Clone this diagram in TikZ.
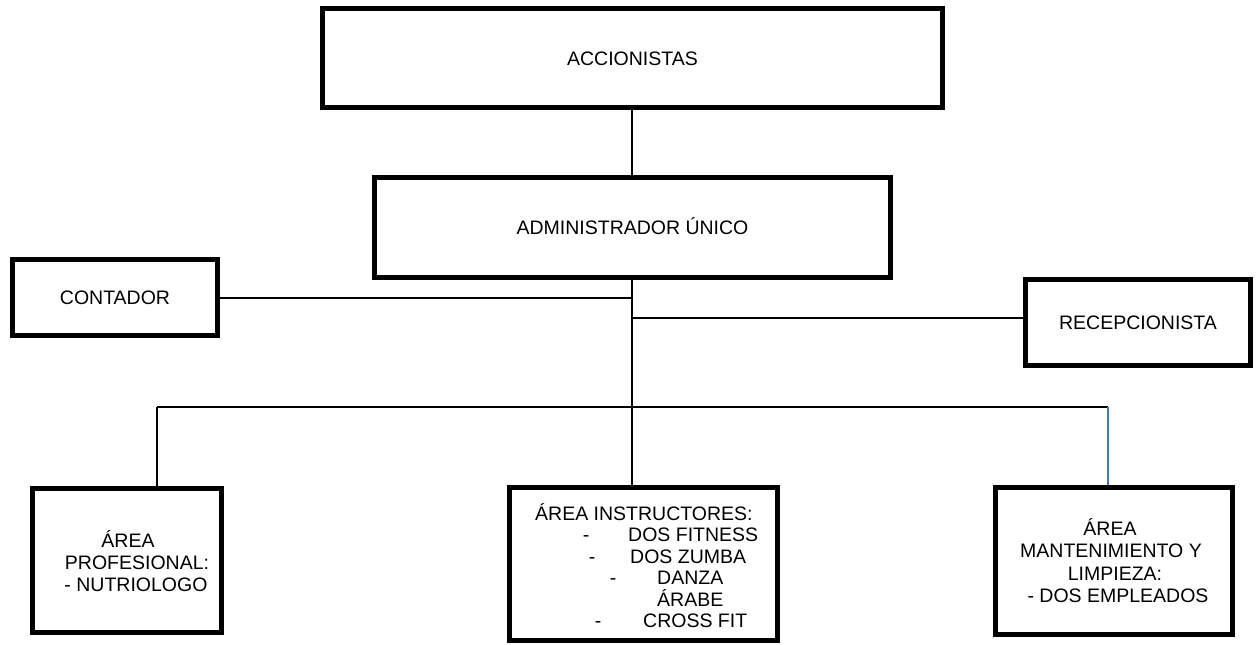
\documentclass[tikz,border=0pt]{standalone}
\usepackage{fontspec}
\setmainfont{Liberation Sans}
\definecolor{linkblue}{RGB}{68,114,196}
\begin{document}
\begin{tikzpicture}[x=1pt,y=-1pt,
  box/.style={draw=black,line width=5pt,rectangle,inner sep=0pt,
    font=\fontsize{19.5}{21.5}\selectfont,text height=14pt,text depth=0pt},
  txt/.style={inner sep=0pt,anchor=base,font=\fontsize{19.5}{21.5}\selectfont},
  txtw/.style={inner sep=0pt,anchor=base west,font=\fontsize{19.5}{21.5}\selectfont},
  link/.style={draw=black,line width=1.5pt},
  bluelink/.style={draw=linkblue,line width=1.5pt}]
\useasboundingbox (0,0) rectangle (1259,645);

% boxes
\node[box,minimum width=620pt,minimum height=99pt] (acc) at (632.5,58) {ACCIONISTAS};
\node[box,minimum width=516pt,minimum height=100pt] (adm) at (632.5,227.5) {ADMINISTRADOR ÚNICO};
\node[box,minimum width=205pt,minimum height=76pt] (con) at (115,297.5) {CONTADOR};
\node[box,minimum width=225pt,minimum height=86pt] (rec) at (1138,322.5) {RECEPCIONISTA};
\node[box,minimum width=189pt,minimum height=144pt] (pro) at (127,560.5) {};
\node[box,minimum width=268pt,minimum height=153pt] (ins) at (643.5,564) {};
\node[box,minimum width=237pt,minimum height=147pt] (man) at (1114,561) {};

% texts of the lower boxes
\node[txt] (pro1) at (128,547) {ÁREA};
\node[txt] (pro2) at (137,569) {PROFESIONAL:};
\node[txt] (pro3) at (136,591) {- NUTRIOLOGO};

\node[txtw] (ins1) at (535,520) {ÁREA INSTRUCTORES:};
\node[txt] (ins2a) at (586,541.5) {-};
\node[txtw] (ins2b) at (628,541.5) {DOS FITNESS};
\node[txt] (ins3a) at (592,563) {-};
\node[txtw] (ins3b) at (630,563) {DOS ZUMBA};
\node[txt] (ins4a) at (613,584.5) {-};
\node[txtw] (ins4b) at (657,584.5) {DANZA};
\node[txtw] (ins5) at (657,606) {ÁRABE};
\node[txt] (ins6a) at (598,627.5) {-};
\node[txtw] (ins6b) at (643,627.5) {CROSS FIT};

\node[txt] (man1) at (1110,535) {ÁREA};
\node[txt] (man2) at (1111,557.5) {MANTENIMIENTO Y};
\node[txt] (man3) at (1115,580) {LIMPIEZA:};
\node[txt] (man4) at (1118,602.5) {- DOS EMPLEADOS};

% junctions
\coordinate (jc) at (632,298);
\coordinate (jr) at (632,318);
\coordinate (bar) at (632,407);
\coordinate (bl) at (157,407);
\coordinate (br) at (1108,407);

% connectors
\draw[link] (acc.south -| jc) -- (adm.north -| jc);
\draw[link] (adm.south -| jc) -- (bar);
\draw[link] (con.east |- jc) -- (jc);
\draw[link] (jr) -- (rec.west |- jr);
\draw[link] (bl) -- (br);
\draw[link] (bl) -- (pro.north -| bl);
\draw[link] (bar) -- (ins.north -| bar);
\draw[bluelink] (br) -- (man.north -| br);
\end{tikzpicture}
\end{document}
